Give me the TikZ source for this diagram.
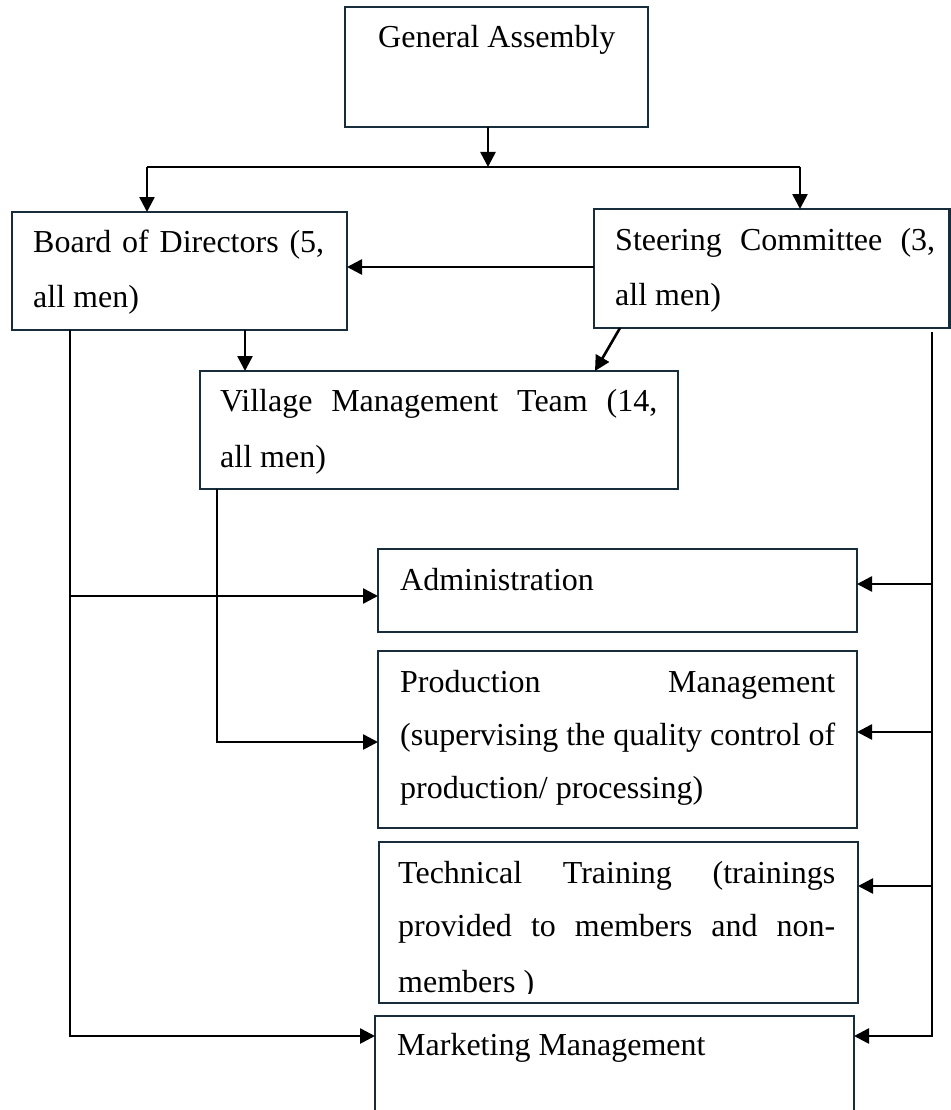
\documentclass[tikz,border=0pt]{standalone}
\usepackage{fontspec}
\setmainfont{Liberation Serif}
\usetikzlibrary{arrows.meta,fit}
\definecolor{boxline}{HTML}{182D3C}
% a line of text stretched to a given width (in pt)
\newcommand\jline[2]{\hbox to #1pt{#2}}
\begin{document}
\begin{tikzpicture}[x=1pt,y=-1pt,
  box/.style={draw=boxline,line width=2.8pt,fill=white,inner sep=0pt,outer sep=0pt},
  txt/.style={font=\fontsize{32}{55}\selectfont,inner sep=0pt,anchor=base west},
  conn/.style={draw=black,line width=2.6pt},
  arr/.style={conn,-{Triangle[length=15pt,width=15pt]}}]
\fill[white] (0,0) rectangle (950,1110);
\useasboundingbox (0,0) rectangle (950,1110);

% boxes
\node[box,fit={(345,7) (648,127)}] (ga) {};
\node[box,fit={(12,212) (347,330)}] (bd) {};
\node[box,fit={(594,209) (949.5,328)}] (st) {};
\node[box,fit={(200,371) (678,489)}] (vm) {};
\node[box,fit={(378,549) (857,632)}] (ad) {};
\node[box,fit={(378,651) (857,828)}] (pr) {};
\node[box,fit={(379,842) (858,1003)}] (te) {};
\node[box,fit={(375,1016) (854,1125)}] (mk) {};

% texts
\node[txt] (ga1) at (378,48) {General Assembly};
\node[txt] (bd1) at (33,252) {\jline{291}{Board of Directors (5,}};
\node[txt] (bd2) at (33,307) {all men)};
\node[txt] (st1) at (615,250) {\jline{320}{Steering Committee (3,}};
\node[txt] (st2) at (615,305) {all men)};
\node[txt] (vm1) at (220,411) {\jline{437}{Village Management Team (14,}};
\node[txt] (vm2) at (220,467) {all men)};
\node[txt] (ad1) at (400,590) {Administration};
\node[txt] (pr1) at (400,692) {\jline{435}{Production\hfill Management}};
\node[txt] (pr2) at (400,745) {\jline{435}{(supervising the quality control of}};
\node[txt] (pr3) at (400,798) {production/ processing)};
\node[txt] (te1) at (398,883) {\jline{437}{Technical Training (trainings}};
\node[txt] (te2) at (398,936) {\jline{437}{provided to members and non-}};
\begin{scope}
  \clip (379,842) rectangle (858,993);
  \node[txt] (te3) at (398,992) {members )};
\end{scope}
\node[txt] (mk1) at (397,1055) {Marketing Management};

% connector positions
\coordinate (xGA) at (488,0);
\coordinate (xBd) at (147,0);
\coordinate (xSt) at (800,0);
\coordinate (xBV) at (245,0);
\coordinate (xL) at (70,0);
\coordinate (xV) at (217,0);
\coordinate (xR) at (932,0);
\coordinate (yBus) at (0,167);
\coordinate (ySB) at (0,267);
\coordinate (yAdL) at (0,596);
\coordinate (yAdR) at (0,584);
\coordinate (yPrL) at (0,742);
\coordinate (yPrR) at (0,732);
\coordinate (yTe) at (0,886);
\coordinate (yMk) at (0,1036);
\coordinate (sv1) at (620,328);
\coordinate (sv2) at (595,371);
\coordinate (rTop) at (932,332);

% connectors
\draw[arr] (ga.south -| xGA) -- (xGA |- yBus);
\draw[conn] (xBd |- yBus) -- (xSt |- yBus);
\draw[arr] (xBd |- yBus) -- (bd.north -| xBd);
\draw[arr] (xSt |- yBus) -- (st.north -| xSt);
\draw[arr] (st.west |- ySB) -- (bd.east |- ySB);
\draw[arr] (bd.south -| xBV) -- (vm.north -| xBV);
\draw[arr] (sv1) -- (sv2);
\draw[arr] (bd.south -| xL) |- (mk.west |- yMk);
\draw[arr] (xL |- yAdL) -- (ad.west |- yAdL);
\draw[arr] (vm.south -| xV) |- (pr.west |- yPrL);
\draw[arr] (rTop) |- (mk.east |- yMk);
\draw[arr] (xR |- yAdR) -- (ad.east |- yAdR);
\draw[arr] (xR |- yPrR) -- (pr.east |- yPrR);
\draw[arr] (xR |- yTe) -- (te.east |- yTe);
\end{tikzpicture}
\end{document}
